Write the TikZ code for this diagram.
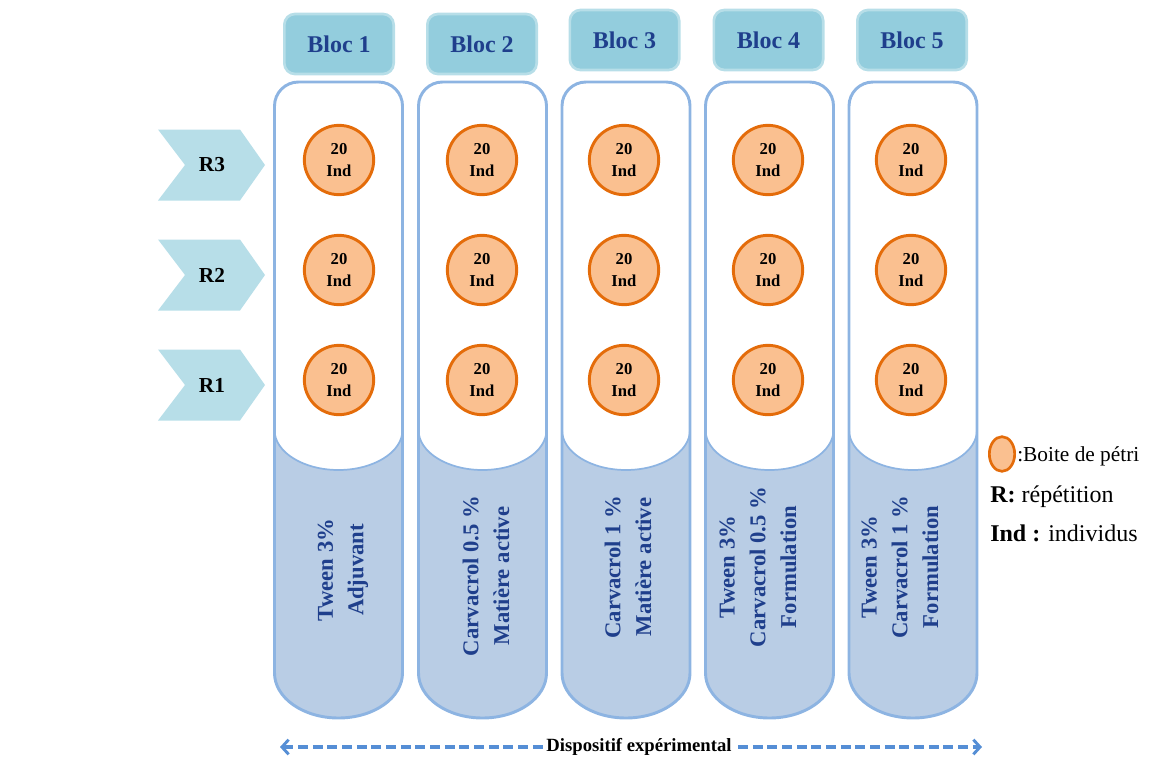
\documentclass[tikz,border=0pt]{standalone}
\usepackage{fontspec}
\setmainfont{Liberation Serif}
\usetikzlibrary{arrows.meta,shapes.geometric}
\definecolor{colborder}{HTML}{8DB4E2}
\definecolor{colfill}{HTML}{B9CDE5}
\definecolor{hdrfill}{HTML}{93CDDD}
\definecolor{hdrborder}{HTML}{B7DEE8}
\definecolor{petrifill}{HTML}{FAC090}
\definecolor{petriborder}{HTML}{E46C0A}
\definecolor{chevfill}{HTML}{B7DEE8}
\definecolor{txtblue}{HTML}{1F3F8C}
\definecolor{arrowblue}{HTML}{558ED5}
\begin{document}
\begin{tikzpicture}[x=0.75pt,y=-0.75pt,
  blochdr/.style={draw=hdrborder, line width=2pt, fill=hdrfill, rounded corners=8pt,
    minimum width=82pt, minimum height=45pt, inner sep=0pt,
    font=\fontsize{18}{20}\selectfont\bfseries, text=txtblue},
  petri/.style={circle, draw=petriborder, line width=2.2pt, fill=petrifill,
    minimum size=52pt, inner sep=0pt, align=center,
    font=\fontsize{12.5}{16}\selectfont\bfseries},
  vlabel/.style={rotate=90, align=center, text=txtblue, inner sep=0pt,
    font=\fontsize{17}{23}\selectfont\bfseries},
  rlabel/.style={font=\fontsize{16}{18}\selectfont\bfseries},
  colline/.style={draw=colborder, line width=2.2pt},
]
\useasboundingbox (0,0) rectangle (1153,760);

% columns
\foreach \cx in {338.5,482.5,626,769.5,913}{
  \fill[colfill] ({\cx-64},430) -- ({\cx-64},673)
     .. controls ({\cx-64},697.9) and ({\cx-35.3},718) .. (\cx,718)
     .. controls ({\cx+35.3},718) and ({\cx+64},697.9) .. ({\cx+64},673)
     -- ({\cx+64},430)
     .. controls ({\cx+64},452.1) and ({\cx+35.3},470) .. (\cx,470)
     .. controls ({\cx-35.3},470) and ({\cx-64},452.1) .. ({\cx-64},430) -- cycle;
  \draw[draw=colborder, line width=1.3pt] ({\cx+64},430)
     .. controls ({\cx+64},452.1) and ({\cx+35.3},470) .. (\cx,470)
     .. controls ({\cx-35.3},470) and ({\cx-64},452.1) .. ({\cx-64},430);
  \draw[colline] ({\cx-64},673) -- ({\cx-64},600) [rounded corners=18pt]
     -- ({\cx-64},82) -- ({\cx+64},82) -- ({\cx+64},600) [sharp corners]
     -- ({\cx+64},673)
     .. controls ({\cx+64},697.9) and ({\cx+35.3},718) .. (\cx,718)
     .. controls ({\cx-35.3},718) and ({\cx-64},697.9) .. ({\cx-64},673) -- cycle;
}

% headers
\foreach \hx/\hy/\i in {339/44/1, 482/44/2, 624.5/40/3, 768.5/40/4, 912/40/5}{
  \node[blochdr] (bloc\i) at (\hx,\hy) {Bloc \i};
}

% petri dishes
\foreach \px/\c in {339/1, 482/2, 624/3, 768/4, 911/5}{
  \foreach \py/\r in {160/3, 270/2, 380/1}{
    \node[petri] (p\c\r) at (\px,\py) {20\\Ind};
  }
}

% repetition chevrons
\foreach \ry/\r in {165/3, 275/2, 385/1}{
  \fill[chevfill] (158,{\ry-35.5}) -- (240,{\ry-35.5}) -- (265,\ry)
     -- (240,{\ry+35.5}) -- (158,{\ry+35.5}) -- (185,\ry) -- cycle;
  \node[rlabel] (r\r) at (212,\ry) {R\r};
}

% vertical labels
\node[vlabel] (lab1) at (343,570) {Tween 3\%\\Adjuvant};
\node[vlabel] (lab2) at (486,576) {Carvacrol 0.5 \%\\Matière active};
\node[vlabel] (lab3) at (628,567) {Carvacrol 1 \%\\Matière active};
\node[vlabel] (lab4) at (758,567) {Tween 3\%\\Carvacrol 0.5 \%\\Formulation};
\node[vlabel] (lab5) at (900,567) {Tween 3\%\\Carvacrol 1 \%\\Formulation};

% legend
\node[ellipse, draw=petriborder, fill=petrifill, line width=2pt,
      minimum width=19pt, minimum height=26pt, inner sep=0pt] (legpetri) at (1002,454) {};
\node[anchor=west, inner sep=0pt, font=\fontsize{16}{18}\selectfont] (legbox) at (1017,456) {:Boite de pétri};
\node[anchor=west, inner sep=0pt, font=\fontsize{18}{20}\selectfont] (legr) at (990,497) {\textbf{R:} répétition};
\node[anchor=west, inner sep=0pt, font=\fontsize{18}{20}\selectfont] (legind) at (990,533) {\textbf{Ind :} individus};

% bottom arrow
\coordinate (arL) at (280,747);
\coordinate (arR) at (982,747);
\draw[arrowblue, line width=2.5pt, dash pattern=on 7.5pt off 3.5pt,
      {Straight Barb[length=5pt,width=11pt,line width=2.2pt]}-{Straight Barb[length=5pt,width=11pt,line width=2.2pt]}] (arL) -- (arR);
\node[fill=white, inner sep=2pt, font=\fontsize{14}{16}\selectfont\bfseries] (disp) at (639,747) {Dispositif expérimental};
\end{tikzpicture}
\end{document}
